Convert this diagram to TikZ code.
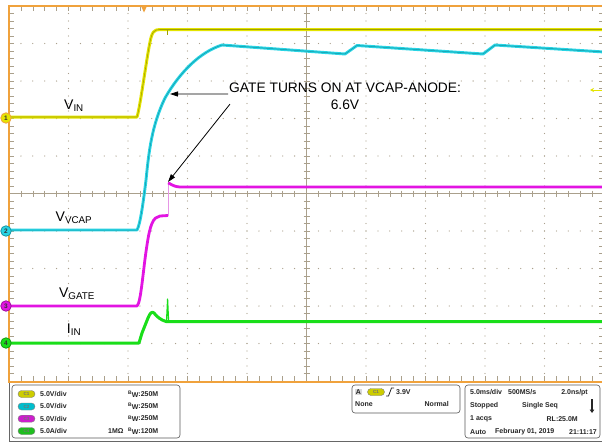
\documentclass[tikz,border=0pt]{standalone}
\usepackage{fontspec}
\setmainfont{Liberation Sans}
\usetikzlibrary{arrows.meta}
\definecolor{scopeorange}{RGB}{240,162,60}
\definecolor{gridc}{RGB}{170,160,140}
\definecolor{tyellow}{RGB}{228,228,0}
\definecolor{tyellowd}{RGB}{160,160,0}
\definecolor{tcyan}{RGB}{40,212,228}
\definecolor{tcyand}{RGB}{20,150,165}
\definecolor{tmag}{RGB}{226,20,226}
\definecolor{tmagl}{RGB}{230,150,230}
\definecolor{tgreen}{RGB}{25,222,25}
\definecolor{byellow}{RGB}{205,205,0}
\definecolor{bcyan}{RGB}{0,190,205}
\definecolor{bmag}{RGB}{205,30,205}
\definecolor{bgreen}{RGB}{30,190,30}
\tikzset{
  ytrace/.style={draw=tyellow, double=tyellowd, line width=1.2pt, double distance=0.6pt, line join=round},
  ctrace/.style={draw=tcyan, double=tcyand, line width=1.2pt, double distance=0.5pt, line join=round},
  mtrace/.style={draw=tmag, line width=2.8pt, line join=round},
  gtrace/.style={draw=tgreen, line width=3pt, line join=round},
  chmark/.style={circle, inner sep=0pt, minimum size=10.5pt, line width=0.8pt, font=\fontsize{6.5}{7}\selectfont\bfseries, text=black!80},
  lbl/.style={inner sep=0pt, font=\fontsize{14}{16}\selectfont},
  ann/.style={inner sep=0pt, font=\fontsize{13.8}{15}\selectfont},
  annarrow/.style={draw=black, line width=0.8pt, -{Triangle[length=8pt,width=5pt]}},
  panel/.style={draw=black!65, rounded corners=3pt, line width=0.6pt},
  ptxt/.style={inner sep=0pt, font=\fontsize{7}{8}\selectfont\bfseries, text=black!85},
  badge/.style={rectangle, rounded corners=3.5pt, minimum width=17pt, minimum height=7pt, inner sep=0pt, draw=black!50, line width=0.4pt, font=\fontsize{4.5}{5}\selectfont\bfseries, text=black!55},
}
\newcommand{\bwtxt}[1]{\raisebox{1.8pt}{\fontsize{5}{5}\selectfont B}\raisebox{-0.8pt}{W}:#1}
\begin{document}
\begin{tikzpicture}[x=1pt,y=-1pt]
\useasboundingbox (0,0) rectangle (602,442);
\fill[white] (0,0) rectangle (602,442);
\begin{scope}
\clip (0,0) rectangle (602,383);
% dotted graticule
\foreach \i in {1,2,3,4,6,7,8,9} {
  \foreach \k in {1,...,49} {
    \fill[gridc] ({9+59.5*\i},{6+7.5*\k}) circle (0.65);
    \fill[gridc] ({9+11.9*\k},{6+37.5*\i}) circle (0.65);
  }
}
% centre lines
\draw[gridc, line width=0.6pt] (306.5,6) -- (306.5,381);
\draw[gridc, line width=0.6pt] (9,193.5) -- (604,193.5);
\foreach \k in {1,...,49} {
  \draw[gridc, line width=0.6pt] (9,{6+7.5*\k}) -- (14,{6+7.5*\k});
  \draw[gridc, line width=0.6pt] (599,{6+7.5*\k}) -- (604,{6+7.5*\k});
  \draw[gridc, line width=0.6pt] (303.5,{6+7.5*\k}) -- (309.5,{6+7.5*\k});
  \draw[gridc, line width=0.6pt] ({9+11.9*\k},6) -- ({9+11.9*\k},11);
  \draw[gridc, line width=0.6pt] ({9+11.9*\k},381) -- ({9+11.9*\k},376);
  \draw[gridc, line width=0.6pt] ({9+11.9*\k},190.5) -- ({9+11.9*\k},196.5);
}
% traces
\draw[gtrace] (9,343) -- (139,343) -- (142,333) -- (148,318) .. controls (150,313) and (152,311) .. (154,313) .. controls (157,317) and (161,320) .. (166,321.5) -- (604,321.5);
\draw[tgreen, line width=1.2pt, line join=round] (166.5,321.5) -- (167.6,299) -- (168.6,321.5);
\draw[mtrace] (9,306) -- (137,306) .. controls (141,303) and (143,270) .. (147,245) .. controls (150,225) and (153,217) .. (160,216) -- (168,215.5);
\draw[tmagl, line width=0.8pt] (168,215.5) -- (168,184);
\draw[mtrace] (168,183) .. controls (170,183) and (172,186.5) .. (180,187) -- (604,187);
\draw[ctrace] (9,230) -- (137,230) .. controls (140,225) and (143,205) .. (146,180) .. controls (149,150) and (152,125) .. (165,98) .. controls (180,72) and (200,52) .. (222,45) -- (345,54) -- (357,45.5) -- (483,54) -- (495,45) -- (604,52);
\draw[ytrace] (9,117) -- (137,117) .. controls (140,108) and (146,62) .. (150,42) .. controls (152,32) and (154,29.5) .. (160,29.5) -- (604,29.5);
\draw[tyellowd, line width=0.6pt] (167.5,30) -- (167.5,35);
% trigger level marker
\draw[tyellow, line width=1pt, -{Stealth[length=4pt,width=4pt]}] (604,90) -- (590,90);
\end{scope}
% border
\draw[scopeorange, line width=1.4pt] (602,6) -- (9,6) -- (9,382) -- (602,382);
\fill[scopeorange] (141,6) -- (147,6) -- (144,12.5) -- cycle;
% channel markers
\node[chmark, fill=tyellow, draw=scopeorange] (m1) at (6,118) {1};
\node[chmark, fill=tcyan, draw=tcyand] (m2) at (6,231) {2};
\node[chmark, fill=tmag, draw=tmag!70!black] (m3) at (6,306) {3};
\node[chmark, fill=tgreen, draw=tgreen!70!black] (m4) at (6,343) {4};
% labels
\node[lbl] (vin) at (74,106) {V\textsubscript{IN}};
\node[lbl] (vvcap) at (74,218) {V\textsubscript{VCAP}};
\node[lbl] (vgate) at (77,294) {V\textsubscript{GATE}};
\node[lbl] (iin) at (74,330) {I\textsubscript{IN}};
% annotation
\node[ann, anchor=west] (ann) at (229,88) {GATE TURNS ON AT VCAP-ANODE:};
\node[ann] (ann2) at (345,105) {6.6V};
\coordinate (tip1) at (170,94);
\coordinate (tip2) at (168,182);
\draw[annarrow] ([shift={(-1,1)}]ann.south west) -- (tip1);
\draw[annarrow] ([shift={(1,11)}]ann.south west) -- (tip2);
% frame
\draw[black!60, line width=0.8pt] (9,383) -- (9,441) -- (602,441);
% channel panel
\draw[panel] (12,385) rectangle (180,438);
\node[badge, fill=byellow] (c1) at (26.5,394) {C1};
\node[badge, fill=bcyan] (c2) at (26.5,406.5) {C2};
\node[badge, fill=bmag] (c3) at (26.5,418.7) {C3};
\node[badge, fill=bgreen] (c4) at (26.5,431) {C4};
\node[ptxt, anchor=west] (s1) at (40,394) {5.0V/div};
\node[ptxt, anchor=west] (s2) at (40,406.5) {5.0V/div};
\node[ptxt, anchor=west] (s3) at (40,418.7) {5.0V/div};
\node[ptxt, anchor=west] (s4) at (40,431) {5.0A/div};
\node[ptxt, anchor=west] (b1) at (128,394) {\bwtxt{250M}};
\node[ptxt, anchor=west] (b2) at (128,406.5) {\bwtxt{250M}};
\node[ptxt, anchor=west] (b3) at (128,418.7) {\bwtxt{250M}};
\node[ptxt, anchor=west] (b4) at (128,431) {\bwtxt{120M}};
\node[ptxt, anchor=west] (imp) at (108,431) {1MΩ};
% trigger panel
\draw[panel] (352,385) rectangle (460,413);
\node[ptxt, fill=black!15, inner sep=1pt] (ta) at (358.5,392) {A};
\node[badge, fill=byellow] (tc1) at (376,392) {C1};
\draw[black!85, line width=0.8pt] (386,396) -- (388.5,396) -- (391.5,388) -- (394,388);
\node[ptxt, anchor=west] (tlev) at (396,392) {3.9V};
\node[ptxt, anchor=west] (tnone) at (355,404) {None};
\node[ptxt, anchor=east] (tnorm) at (449,404) {Normal};
% timebase panel
\draw[panel] (465,385) rectangle (600,438);
\node[ptxt, anchor=west] (h1) at (470,392.5) {5.0ms/div};
\node[ptxt, anchor=west] (h2) at (508,392.5) {500MS/s};
\node[ptxt, anchor=east] (h3) at (588,392.5) {2.0ns/pt};
\node[ptxt, anchor=west] (h4) at (470,406) {Stopped};
\node[ptxt, anchor=west] (h5) at (522,406) {Single Seq};
\draw[black!85, line width=1.6pt, -{Triangle[length=3.5pt,width=4.5pt]}] (592,399) -- (592,413);
\node[ptxt, anchor=west] (h6) at (470,419) {1 acqs};
\node[ptxt, anchor=east] (h7) at (578,419) {RL:25.0M};
\node[ptxt, anchor=west] (h8) at (470,432) {Auto};
\node[ptxt, anchor=west] (h9) at (495,432) {February 01, 2019};
\node[ptxt, anchor=east] (h10) at (597,432) {21:11:17};
\end{tikzpicture}
\end{document}
